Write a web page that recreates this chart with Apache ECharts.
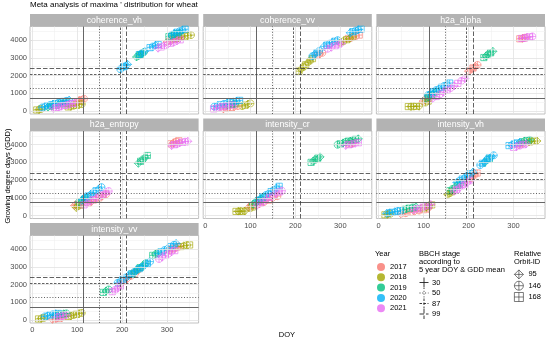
<!DOCTYPE html>
<html><head><meta charset="utf-8">
<script src="https://cdn.jsdelivr.net/npm/echarts@6/dist/echarts.min.js"></script>
<style>html,body{margin:0;padding:0;background:#fff}#c{width:550px;height:343px}</style>
</head><body><div id="c"></div>
<script>
const FONT = 'Liberation Sans, Arial, sans-serif';
const years = ['2017','2018','2019','2020','2021'];
const yearColors = ['#F8766D','#A3A500','#00BF7D','#00B0F6','#E76BF3'];
const orbits = [95,146,168];
const bbchStages = ['30','50','87','99'];
const bbchDoy = [113,149,195,210];
const bbchGdd = [720,1260,2065,2400];
const xMajor = [0,100,200,300];
const xMinor = [50,150,250,350];
const yMajor = [0,1000,2000,3000,4000];
const yMinor = [500,1500,2500,3500,4500];
const panelNames = ['coherence_vh','coherence_vv','h2a_alpha','h2a_entropy','intensity_cr','intensity_vh','intensity_vv'];

// points: [DOY, GDD, orbit]
const coherence_vh = {
 2017: [[100,520,146],[105,580,95],[110,630,168],[115,690,146],[300,3900,95],[307,3970,146],[314,4040,168],[321,4100,95],[328,4160,146]],
 2018: [[10,60,168],[15,85,95],[20,115,146],[80,230,168],[86,265,95],[92,300,146],[98,330,168],[104,360,95],[110,390,146],[318,4100,168],[325,4150,95],[332,4190,146],[339,4230,168],[346,4260,95],[353,4290,146]],
 2019: [[35,220,95],[43,270,146],[51,320,168],[59,370,95],[67,410,146],[75,450,168],[232,3050,95],[236,3120,146],[240,3190,168],[244,3260,95],[248,3320,146],[304,4200,168],[310,4260,95],[316,4320,146],[322,4370,168],[328,4410,95]],
 2020: [[22,200,146],[28,250,95],[34,300,168],[40,340,146],[46,380,95],[52,420,168],[58,460,146],[64,500,95],[70,540,168],[76,570,146],[82,610,95],[196,2360,146],[200,2430,95],[204,2500,168],[208,2560,146],[212,2630,95],[238,3180,168],[244,3280,146],[250,3370,95],[262,3580,168],[268,3640,146],[274,3700,95],[280,3760,168],[310,4300,146],[316,4380,95],[322,4450,168],[328,4510,146],[334,4570,95],[340,4620,168]],
 2021: [[47,150,95],[53,190,168],[59,230,146],[65,270,95],[71,310,168],[77,350,146],[83,390,95],[89,420,168],[95,450,146],[280,3550,95],[287,3620,168],[294,3690,146],[301,3760,95],[308,3830,168],[315,3900,146],[322,3960,95],[329,4020,168]]
};
const coherence_vv = {
 2017: [[40,120,95],[48,160,146],[56,200,168],[64,240,95],[72,280,146],[248,3150,168],[254,3220,95],[260,3290,146],[318,4100,168],[326,4170,95],[334,4230,146],[342,4290,168]],
 2018: [[82,280,146],[88,330,168],[94,380,95],[100,430,146],[208,2250,168],[213,2370,95],[218,2490,146],[223,2610,168],[228,2730,95],[233,2850,146],[238,2960,168],[300,3850,95],[307,3940,146],[314,4030,168],[321,4110,95],[328,4180,146]],
 2019: [[50,330,95],[58,370,168],[66,410,146]],
 2020: [[20,250,146],[27,300,95],[34,350,168],[41,400,146],[48,440,95],[55,480,168],[62,520,146],[69,560,95],[76,600,168],[238,3100,146],[243,3200,95],[248,3300,168],[253,3390,146],[264,3650,95],[270,3720,168],[276,3800,146],[282,3870,95],[288,3940,168],[294,4000,146],[322,4420,95],[328,4480,168],[334,4540,146],[340,4590,95],[346,4620,168]],
 2021: [[18,120,168],[25,160,146],[32,200,95],[39,240,168],[46,280,146],[53,310,95],[60,340,168],[272,3520,146],[280,3600,95],[288,3680,168],[296,3760,146],[302,3820,95]]
};
const h2a_alpha = {
 2017: [[99,560,95],[104,640,146],[109,720,168],[200,2250,95],[205,2340,146],[210,2430,168],[215,2520,95],[220,2600,146],[314,4080,168],[320,4110,95],[326,4140,146]],
 2018: [[66,250,168],[72,255,95],[78,260,146],[84,265,168],[90,270,95],[104,480,146],[110,560,168]],
 2019: [[105,700,95],[111,800,146],[117,900,168],[123,1000,95],[129,1090,146],[234,3020,168],[239,3110,95],[244,3200,146],[249,3290,168],[254,3370,95]],
 2020: [[110,900,146],[116,1000,95],[122,1100,168],[128,1180,146],[134,1260,95],[140,1340,168],[146,1420,146],[152,1500,95],[158,1580,168]],
 2021: [[120,700,95],[128,820,168],[136,940,146],[144,1060,95],[152,1180,168],[160,1300,146],[168,1420,95],[176,1560,168],[184,1700,146],[192,1840,95],[318,4100,168],[324,4130,146],[330,4160,95],[336,4190,168],[342,4210,146]]
};
const h2a_entropy = {
 2017: [[94,560,95],[98,620,146],[124,700,168],[132,800,95],[140,900,146],[148,1000,168],[156,1100,95],[164,1200,146],[308,4050,168],[314,4110,95],[320,4170,146],[326,4220,168]],
 2018: [[98,450,95],[102,520,146],[106,590,168]],
 2019: [[104,760,146],[110,840,95],[116,920,168],[122,1000,146],[236,2950,95],[241,3060,168],[246,3170,146],[251,3280,95],[256,3390,168]],
 2020: [[112,900,95],[118,1000,146],[124,1100,168],[130,1200,95],[136,1300,146],[142,1400,168],[148,1500,95],[154,1600,146]],
 2021: [[115,600,168],[122,700,95],[129,800,146],[136,900,168],[143,1000,95],[150,1100,146],[157,1200,168],[164,1300,95],[170,1380,146],[310,3950,95],[316,4000,168],[322,4050,146],[328,4100,95],[334,4140,168],[340,4170,146],[346,4190,95]]
};
const intensity_cr = {
 2017: [[96,460,95],[101,520,146],[106,580,168],[120,650,95],[130,760,146],[140,870,168],[150,980,95],[160,1090,146],[320,4050,168],[328,4100,95]],
 2018: [[68,230,168],[73,235,95],[78,240,146],[83,245,168],[87,250,95],[100,420,146],[104,480,168]],
 2019: [[106,640,95],[112,740,146],[118,840,168],[124,940,95],[130,1030,146],[235,3000,168],[240,3080,95],[245,3160,146],[250,3240,168],[255,3310,95],[294,4000,146],[300,4050,168],[306,4100,95],[312,4150,146],[318,4200,168],[322,4200,95],[328,4250,146],[334,4300,168],[340,4330,95]],
 2020: [[116,850,146],[122,950,95],[128,1050,168],[134,1150,146],[140,1250,95],[146,1350,168],[152,1450,146],[158,1550,95],[164,1650,168]],
 2021: [[115,580,95],[122,690,168],[129,800,146],[136,910,95],[143,1020,168],[150,1130,146],[157,1240,95],[164,1330,168],[170,1400,146],[312,3960,95],[319,4000,168],[326,4040,146],[333,4080,95],[340,4110,168]]
};
const intensity_vh = {
 2017: [[50,80,95],[60,130,146],[70,180,168],[80,230,95],[90,280,146],[100,330,168],[110,390,95],[196,2000,146],[202,2100,168],[208,2200,95],[214,2300,146],[219,2400,168],[312,4000,95],[320,4060,146]],
 2018: [[14,40,168],[20,70,95],[26,100,146],[100,420,168],[106,480,95],[112,540,146],[118,600,168],[154,1180,95],[158,1260,146],[162,1340,168],[334,4150,95],[340,4180,146],[346,4200,168],[352,4210,95]],
 2019: [[55,330,146],[62,370,95],[69,410,168],[76,450,146],[83,490,95],[158,1400,168],[164,1500,146],[170,1600,95],[176,1700,168],[182,1800,146],[236,3000,95],[246,3200,168],[318,4150,146],[324,4200,95],[330,4240,168],[336,4270,146]],
 2020: [[18,120,95],[24,150,146],[30,180,168],[36,210,95],[42,240,146],[48,270,168],[174,1860,95],[180,1960,146],[186,2060,168],[192,2160,95],[198,2260,146],[204,2360,168],[210,2460,95],[226,2850,146],[231,2950,168],[236,3050,95],[241,3150,146],[246,3250,168],[251,3330,95],[256,3400,146],[290,3950,168],[296,4000,95],[302,4050,146],[308,4100,168],[314,4140,95]],
 2021: [[78,320,146],[86,380,168],[94,440,95],[102,500,146],[110,560,168],[116,620,95],[168,1380,146],[174,1480,168],[180,1580,95],[186,1680,146],[192,1780,168],[198,1880,95],[204,1980,146],[300,3850,168],[307,3900,95],[314,3950,146],[321,4000,168],[328,4050,95]]
};
const intensity_vv = {
 2017: [[45,40,95],[52,70,146],[59,100,168],[66,130,95],[196,2050,146],[204,2200,168],[212,2350,95],[220,2500,146],[228,2650,168],[236,2800,95],[305,3920,146],[312,4020,168],[320,4100,95],[326,4150,146]],
 2018: [[14,60,168],[20,90,95],[26,120,146],[80,200,168],[86,240,95],[92,280,146],[98,320,168],[104,360,95],[110,400,146],[330,4150,168],[337,4190,95],[344,4220,146],[350,4240,168]],
 2019: [[52,260,95],[58,290,146],[64,320,168],[70,350,95],[76,370,146],[158,1560,168],[164,1640,95],[170,1720,146],[222,2600,168],[228,2720,95],[234,2840,146],[240,2960,168],[246,3080,95],[252,3200,146],[268,3650,168],[274,3730,95],[280,3800,146]],
 2020: [[28,200,146],[34,240,95],[40,280,168],[46,320,146],[52,350,95],[58,370,168],[190,2100,146],[196,2200,95],[202,2300,168],[208,2400,146],[214,2500,95],[220,2600,168],[226,2700,146],[232,2800,95],[238,2900,168],[244,3000,146],[250,3100,95],[256,3200,168],[262,3300,146],[280,3750,95],[287,3850,168],[294,3950,146],[301,4050,95],[308,4150,168],[315,4250,146],[320,4320,95]],
 2021: [[55,160,95],[62,200,168],[69,240,146],[76,280,95],[178,1600,168],[184,1700,146],[190,1800,95],[196,1920,168],[282,3450,146],[289,3550,95],[296,3650,168],[303,3750,146],[310,3850,95],[317,3920,168]]
};
const panelData = [coherence_vh, coherence_vv, h2a_alpha, h2a_entropy, intensity_cr, intensity_vh, intensity_vv];

const CIRCLE = 'M0,5C0,2.24 2.24,0 5,0C7.76,0 10,2.24 10,5C10,7.76 7.76,10 5,10C2.24,10 0,7.76 0,5Z';
const orbitSymbol = {
  95: 'path://M5,0L10,5L5,10L0,5ZM5,0L5,10M0,5L10,5',
  146: 'path://' + CIRCLE + 'M5,0L5,10M0,5L10,5',
  168: 'path://M0,0L10,0L10,10L0,10ZM5,0L5,10M0,5L10,5'
};
const orbitSize = {95: 8, 146: 7, 168: 6.2};
const bbchType = ['solid', [1, 1.8], [2.5, 1.5], [4.5, 2]];
const bbchColor = ['#666', '#3a3a3a', '#3a3a3a', '#3a3a3a'];
const bbchWidth = [1, 0.8, 0.8, 0.8];

const W = 168.6, H = 87.5, SH = 12.5;
const colX = [30, 203.2, 376.4];
const rowY = [26.5, 131, 235.5];
const pos = [[0,0],[0,1],[0,2],[1,0],[1,1],[1,2],[2,0]];
const showY = [true,false,false,true,false,false,true];
const showX = [false,false,false,false,true,true,true];

const grids = [], xAxes = [], yAxes = [], series = [], graphics = [];
pos.forEach(([r,c], i) => {
  const left = colX[c], top = rowY[r];
  grids.push({left, top, width: W, height: H, show: true, borderColor: '#b3b3b3', borderWidth: 0.8, backgroundColor: '#fff'});
  xAxes.push({gridIndex: i, type: 'value', min: -5, max: 370,
    axisLine: {show: false}, splitLine: {show: false},
    axisTick: {show: showX[i], length: 2, lineStyle: {color: '#b3b3b3', width: 0.8}},
    axisLabel: {show: showX[i], showMinLabel: false, showMaxLabel: false, fontSize: 7.5, color: '#4d4d4d', margin: 3, fontFamily: FONT, formatter: v => String(v)}});
  yAxes.push({gridIndex: i, type: 'value', min: -170, max: 4774,
    axisLine: {show: false}, splitLine: {show: false},
    axisTick: {show: showY[i], length: 2, lineStyle: {color: '#b3b3b3', width: 0.8}},
    axisLabel: {show: showY[i], showMinLabel: false, showMaxLabel: false, fontSize: 7.5, color: '#4d4d4d', margin: 3, fontFamily: FONT, formatter: v => String(v)}});
  const gl = [];
  xMinor.forEach(v => gl.push({xAxis: v, lineStyle: {color: '#f0f0f0', width: 0.6, type: 'solid'}}));
  yMinor.forEach(v => gl.push({yAxis: v, lineStyle: {color: '#f0f0f0', width: 0.6, type: 'solid'}}));
  xMajor.forEach(v => gl.push({xAxis: v, lineStyle: {color: '#e2e2e2', width: 0.8, type: 'solid'}}));
  yMajor.forEach(v => gl.push({yAxis: v, lineStyle: {color: '#e2e2e2', width: 0.8, type: 'solid'}}));
  series.push({type: 'scatter', xAxisIndex: i, yAxisIndex: i, data: [], z: 1, silent: true,
    markLine: {silent: true, symbol: 'none', animation: false, label: {show: false}, data: gl}});
  const bl = [];
  bbchStages.forEach((s, k) => {
    bl.push({xAxis: bbchDoy[k], lineStyle: {color: bbchColor[k], width: bbchWidth[k], type: bbchType[k]}});
    bl.push({yAxis: bbchGdd[k], lineStyle: {color: bbchColor[k], width: bbchWidth[k], type: bbchType[k]}});
  });
  series.push({type: 'scatter', xAxisIndex: i, yAxisIndex: i, data: [], z: 2, silent: true,
    markLine: {silent: true, symbol: 'none', animation: false, label: {show: false}, data: bl}});
  years.forEach((y, k) => {
    const pts = panelData[i][y] || [];
    series.push({type: 'scatter', name: y, xAxisIndex: i, yAxisIndex: i, z: 3, animation: false,
      data: pts.map(p => ({value: [p[0], p[1]], symbol: orbitSymbol[p[2]], symbolSize: orbitSize[p[2]]})),
      itemStyle: {color: 'rgba(0,0,0,0)', borderColor: yearColors[k], borderWidth: 0.9, opacity: 0.7}});
  });
  graphics.push({type: 'rect', shape: {x: left, y: top - SH, width: W, height: SH}, style: {fill: '#b3b3b3'}, silent: true});
  graphics.push({type: 'text', x: left + W / 2, y: top - SH / 2, silent: true,
    style: {text: panelNames[i], fill: '#fff', fontSize: 8.8, fontFamily: FONT, textAlign: 'center', textVerticalAlign: 'middle'}});
});
orbits.forEach(o => series.push({type: 'scatter', name: String(o), xAxisIndex: 0, yAxisIndex: 0, data: [], symbol: orbitSymbol[o],
  itemStyle: {color: 'rgba(0,0,0,0)', borderColor: '#333', borderWidth: 0.8}}));

graphics.push({type: 'text', x: 287, y: 335, style: {text: 'DOY', fill: '#000', fontSize: 7.5, fontFamily: FONT, textAlign: 'center', textVerticalAlign: 'middle'}});
graphics.push({type: 'text', x: 8, y: 176, rotation: Math.PI / 2, style: {text: 'Growing degree days (GDD)', fill: '#000', fontSize: 7.5, fontFamily: FONT, textAlign: 'center', textVerticalAlign: 'middle'}});
graphics.push({type: 'text', x: 375, y: 254, style: {text: 'Year', fill: '#000', fontSize: 7.5, fontFamily: FONT, textVerticalAlign: 'middle'}});
['BBCH stage', 'according to', '5 year DOY & GDD mean'].forEach((t, k) =>
  graphics.push({type: 'text', x: 419, y: 254 + k * 8, style: {text: t, fill: '#000', fontSize: 7.5, fontFamily: FONT, textVerticalAlign: 'middle'}}));
['Relative', 'Orbit-ID'].forEach((t, k) =>
  graphics.push({type: 'text', x: 514, y: 254 + k * 8, style: {text: t, fill: '#000', fontSize: 7.5, fontFamily: FONT, textVerticalAlign: 'middle'}}));
bbchStages.forEach((s, k) => {
  const cy = 282.5 + k * 10.5, cx = 424;
  const dash = bbchType[k] === 'solid' ? null : bbchType[k];
  graphics.push({type: 'line', shape: {x1: cx - 4.5, y1: cy, x2: cx + 4.5, y2: cy}, style: {stroke: '#222', lineWidth: 0.9, lineDash: dash}});
  graphics.push({type: 'line', shape: {x1: cx, y1: cy - 5, x2: cx, y2: cy + 5}, style: {stroke: '#222', lineWidth: 0.9, lineDash: dash}});
  graphics.push({type: 'text', x: 432, y: cy, style: {text: s, fill: '#000', fontSize: 7.5, fontFamily: FONT, textVerticalAlign: 'middle'}});
});

const chart = echarts.init(document.getElementById('c'), null, {renderer: 'canvas'});
chart.setOption({
  animation: false,
  backgroundColor: '#fff',
  title: {text: "Meta analysis of maxima ' distribution for wheat", left: 30, top: 1, padding: 0,
    textStyle: {fontSize: 8, fontWeight: 'normal', color: '#000', fontFamily: FONT}},
  grid: grids, xAxis: xAxes, yAxis: yAxes, series,
  legend: [
    {data: years.map((y, k) => ({name: y, icon: 'circle', itemStyle: {color: yearColors[k], borderWidth: 0, opacity: 0.8}})),
     orient: 'vertical', left: 377, top: 263, itemWidth: 8, itemHeight: 8, itemGap: 2.3, padding: 0, selectedMode: false,
     textStyle: {fontSize: 7.5, color: '#000', fontFamily: FONT}},
    {data: orbits.map(o => ({name: String(o), icon: orbitSymbol[o], itemStyle: {color: 'rgba(0,0,0,0)', borderColor: '#333', borderWidth: 0.8}})),
     orient: 'vertical', left: 514, top: 269.5, itemWidth: 9, itemHeight: 9, itemGap: 1.5, padding: 0, selectedMode: false,
     textStyle: {fontSize: 7.5, color: '#000', fontFamily: FONT}}
  ],
  graphic: graphics
});
</script></body></html>
